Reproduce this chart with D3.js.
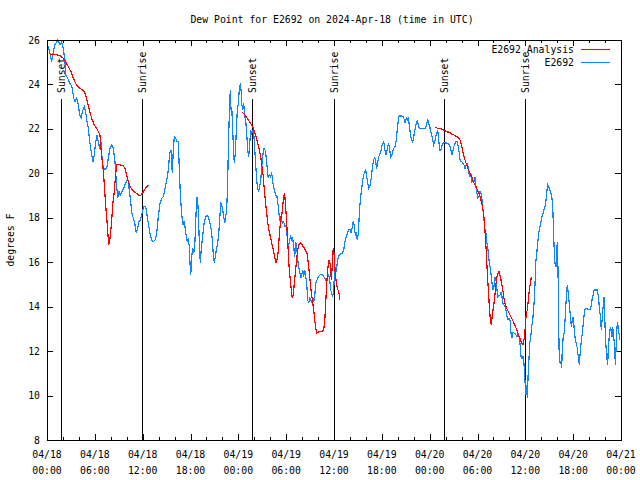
<!DOCTYPE html>
<html><head><meta charset="utf-8">
<script src="https://cdn.jsdelivr.net/npm/d3@7"></script>
<style>
html,body{margin:0;padding:0;background:#fff;}
svg{display:block;}
text{font-family:"DejaVu Sans Mono",monospace;font-size:9.8px;fill:#000;}
</style></head><body>
<div id="chart"></div>
<script>
// ---------- data ----------
const startUTC = Date.UTC(2024, 3, 18, 0, 0);
const titleText = "Dew Point for E2692 on 2024-Apr-18 (time in UTC)";
const yLabelText = "degrees F";
const seriesNames = ["E2692 Analysis", "E2692"];
const yTicks = [8, 10, 12, 14, 16, 18, 20, 22, 24, 26];
const xMajorHours = [0, 6, 12, 18, 24, 30, 36, 42, 48, 54, 60, 66, 72];

// sunset / sunrise markers (hours after 04/18 00:00 UTC)
const sunHours = [1.70, 11.95, 25.76, 36.02, 49.83, 59.98];
const sunLabels = ["Sunset", "Sunrise", "Sunset", "Sunrise", "Sunset", "Sunrise"];

// observed station dew point (hours after start, deg F)
const obsHours = [
0.09,0.41,0.59,0.79,1.00,1.34,1.63,1.84,2.04,2.26,2.35,2.60,2.76,3.01,3.17,3.35,3.51,3.73,3.93,4.10,
4.27,4.43,4.68,4.85,5.02,5.18,5.36,5.61,5.77,5.93,6.11,6.27,6.44,6.61,6.77,6.94,7.11,7.28,7.53,7.69,
7.90,8.12,8.32,8.53,8.69,8.87,9.03,9.19,9.37,9.62,9.78,9.95,10.12,10.29,10.45,10.62,10.83,11.04,11.20,11.38,
11.54,11.70,11.88,12.13,12.38,12.54,12.71,12.92,13.13,13.33,13.55,13.76,13.96,14.17,14.39,14.59,14.80,15.02,15.22,15.39,
15.55,15.64,15.72,15.84,15.97,16.14,16.31,16.47,16.60,16.72,16.90,17.06,17.19,17.31,17.47,17.60,17.72,17.85,17.94,18.03,
18.15,18.28,18.40,18.53,18.65,18.78,18.90,18.98,19.10,19.23,19.36,19.48,19.61,19.73,19.91,20.07,20.23,20.41,20.57,20.74,
20.86,20.99,21.11,21.24,21.41,21.54,21.66,21.79,21.92,22.04,22.17,22.29,22.42,22.54,22.67,22.74,22.87,22.99,23.08,23.17,
23.29,23.42,23.50,23.62,23.75,23.87,24.00,24.12,24.25,24.34,24.42,24.55,24.67,24.80,24.92,25.05,25.18,25.30,25.43,25.55,
25.68,25.84,25.96,26.09,26.22,26.34,26.51,26.68,26.81,26.93,27.10,27.22,27.35,27.47,27.60,27.76,27.89,28.01,28.19,28.35,
28.51,28.69,28.85,29.01,29.14,29.27,29.39,29.52,29.69,29.85,30.02,30.19,30.32,30.44,30.57,30.70,30.82,30.95,31.07,31.20,
31.32,31.45,31.57,31.70,31.82,31.95,32.08,32.20,32.33,32.45,32.58,32.70,32.83,32.95,33.20,33.33,33.45,33.58,33.71,33.87,
34.03,34.28,34.53,34.71,34.87,35.04,35.21,35.34,35.46,35.59,35.71,35.84,35.96,36.04,36.13,36.25,36.38,36.54,36.72,36.88,
37.04,37.22,37.38,37.54,37.72,37.88,38.05,38.14,38.30,38.42,38.55,38.67,38.80,38.92,39.05,39.14,39.23,39.35,39.48,39.60,
39.73,39.85,39.98,40.10,40.23,40.35,40.48,40.61,40.73,40.86,40.98,41.11,41.23,41.36,41.48,41.61,41.86,41.99,42.11,42.24,
42.36,42.49,42.61,42.74,42.86,42.99,43.11,43.24,43.49,43.65,43.78,43.90,44.03,44.16,44.49,44.69,44.82,44.94,45.07,45.20,
45.32,45.45,45.57,45.70,45.82,45.95,46.07,46.20,46.33,46.45,46.58,46.70,47.50,47.63,47.76,47.88,48.01,48.13,48.26,48.38,
48.51,48.63,48.76,48.88,49.01,49.13,49.26,49.39,49.51,49.64,49.76,50.34,50.46,50.64,50.77,50.89,51.02,51.18,51.34,51.47,
51.59,51.72,51.84,52.02,52.18,52.31,52.43,52.56,52.68,52.81,52.94,53.06,53.19,53.31,53.44,53.56,53.69,53.81,53.94,54.06,
54.19,54.32,54.44,54.57,54.69,54.82,54.94,55.07,55.19,55.32,55.44,55.57,55.69,55.82,55.94,56.07,56.20,56.32,56.45,56.57,
56.82,56.95,57.07,57.20,57.45,57.57,57.70,57.83,57.95,58.08,58.20,58.33,58.45,58.70,58.95,59.08,59.21,59.33,59.46,59.58,
59.71,59.83,59.92,60.00,60.09,60.17,60.25,60.34,60.43,60.55,60.68,60.80,60.93,61.05,61.18,61.30,61.43,61.55,61.68,61.80,
61.93,62.05,62.26,62.47,62.59,62.72,62.81,62.93,63.06,63.18,63.31,63.44,63.51,63.60,63.72,63.85,63.94,64.01,64.10,64.19,
64.26,64.39,64.48,64.56,64.64,64.76,64.89,65.01,65.14,65.26,65.39,65.51,65.64,65.77,65.89,66.02,66.14,66.27,66.52,66.64,
66.77,66.89,67.02,67.14,67.27,67.39,67.52,67.90,68.11,68.24,68.36,68.49,68.62,69.03,69.16,69.28,69.41,69.53,69.66,69.79,
69.87,69.96,70.03,70.12,70.21,70.33,70.41,70.53,70.66,70.78,70.87,70.96,71.08,71.21,71.29,71.41,71.50,71.58,71.66,71.75,
71.84];
const obsDewF = [
25.78,25.33,25.02,25.47,25.78,26.00,25.78,25.92,25.63,25.02,24.43,24.28,24.12,23.98,23.83,23.38,23.22,23.38,23.08,22.63,
22.48,22.77,23.00,22.77,22.32,22.03,21.42,20.82,20.52,20.82,21.42,21.72,21.42,21.12,21.42,20.52,20.22,20.15,20.30,20.68,
21.12,21.28,21.12,20.52,19.62,18.88,19.17,19.03,19.17,19.33,19.48,19.62,19.78,19.33,18.88,18.27,17.98,17.68,17.30,17.53,
17.82,17.90,18.13,18.50,18.50,18.13,17.75,17.30,17.00,16.92,17.00,17.30,18.05,18.65,18.88,18.95,19.33,19.70,20.15,20.90,
21.05,20.45,20.00,21.05,21.65,21.58,21.42,21.42,20.15,19.10,18.13,17.68,17.82,17.60,17.15,16.92,17.08,16.70,15.95,15.43,
16.25,16.63,16.40,16.70,17.75,18.95,18.80,18.20,17.00,15.95,16.63,17.00,17.45,17.82,18.05,18.13,18.05,17.82,17.53,17.00,
16.33,15.98,16.25,16.55,16.85,17.30,17.90,18.65,18.58,18.35,18.05,17.75,18.05,18.35,19.70,21.05,22.70,23.75,22.85,23.00,
21.95,20.90,20.45,20.90,21.95,22.85,23.15,23.75,24.05,23.75,23.15,22.85,23.15,22.55,22.40,21.80,21.05,20.75,21.35,21.95,
21.80,21.95,21.65,20.90,20.15,19.55,19.17,19.40,19.70,20.30,20.90,21.12,21.05,20.82,20.30,19.78,19.93,19.85,20.00,19.55,
19.25,19.03,18.95,18.50,18.05,17.82,17.98,17.75,17.82,17.60,17.68,16.85,16.78,17.00,17.15,17.00,17.08,16.70,16.25,16.92,
16.70,16.10,15.80,15.57,15.28,15.43,15.65,15.35,15.65,15.35,15.05,14.30,14.15,14.38,14.22,14.45,14.22,14.45,15.05,15.20,
15.35,15.43,15.43,15.35,15.28,15.12,15.35,15.43,15.20,14.75,14.60,14.45,14.75,15.35,15.80,15.57,15.88,16.25,16.33,16.40,
16.40,16.55,16.92,17.15,17.37,17.48,17.45,17.30,17.60,17.87,17.60,17.23,17.30,17.00,17.30,17.90,18.50,18.95,19.33,19.70,
19.93,20.07,20.15,19.85,19.55,19.33,19.40,19.62,20.00,20.38,20.60,20.75,20.52,20.22,20.52,20.75,20.97,21.20,21.35,21.42,
21.12,20.82,20.97,21.20,21.35,21.05,20.72,20.82,21.12,21.20,21.42,21.87,22.25,22.58,22.58,22.55,22.40,22.25,22.48,22.40,
22.48,22.18,21.80,21.53,21.42,21.50,21.80,22.03,22.25,22.40,22.18,22.03,22.03,22.25,22.40,22.25,22.10,21.87,21.72,21.50,
21.28,21.42,21.65,21.80,21.95,21.50,21.05,21.02,21.20,21.35,21.38,21.35,21.28,21.12,20.82,20.97,21.20,21.35,21.45,21.42,
21.20,20.90,20.52,20.52,20.45,20.38,20.22,20.38,20.45,20.30,20.00,19.85,19.93,19.62,19.70,19.62,19.85,19.40,19.10,18.88,
18.95,19.17,19.10,18.80,18.35,17.90,17.45,17.30,16.85,16.55,16.10,15.80,15.50,15.05,14.75,14.90,15.35,15.20,14.75,14.45,
14.52,14.67,14.45,14.15,14.00,13.85,13.55,13.40,13.48,13.40,12.80,12.58,12.83,12.80,12.65,12.80,12.65,12.35,11.75,11.68,
11.75,11.45,10.85,10.40,10.03,10.48,9.88,10.85,11.45,12.35,12.65,13.10,13.40,13.93,14.67,15.95,16.40,16.85,17.30,17.52,
17.75,17.98,18.27,18.50,18.80,19.25,19.48,19.40,19.25,19.13,18.95,18.50,17.68,16.78,15.95,15.80,16.40,16.92,15.65,13.10,
11.60,11.45,11.52,11.22,12.20,12.65,12.87,13.55,14.45,14.98,14.60,14.15,13.63,13.10,13.40,13.55,12.95,12.50,12.13,11.75,
11.38,11.98,12.42,12.80,13.25,13.70,13.93,13.88,13.88,14.00,14.30,14.52,14.75,14.75,14.45,14.00,13.55,12.95,13.55,14.15,
14.45,13.55,12.80,12.20,11.75,11.38,12.20,12.65,13.10,12.95,12.65,13.10,12.65,12.20,11.38,12.35,13.10,13.32,12.95,12.80,
12.50];

// analysis dew point (null = gap between nightly runs)
const anaHours = [
0.44,1.22,1.63,2.04,2.35,2.67,3.01,3.30,3.60,3.85,4.14,4.43,4.68,4.85,5.06,5.27,5.48,5.68,5.93,6.23,
6.44,6.65,6.77,6.94,7.11,7.24,7.36,7.53,7.65,7.74,7.87,7.99,8.12,8.24,8.40,8.57,8.74,9.16,9.57,9.78,
10.00,10.20,10.41,10.70,11.04,11.38,11.67,11.88,12.08,12.29,12.51,12.71,
18.00,
24.52,24.84,25.25,25.68,25.96,26.22,26.43,26.63,26.81,26.97,27.13,27.26,27.43,27.60,27.76,27.97,28.19,28.39,28.56,28.73,
28.85,28.98,29.10,29.23,29.35,29.48,29.60,29.73,29.82,29.89,30.02,30.14,30.27,30.39,30.52,30.64,30.77,30.90,31.02,31.15,
31.27,31.40,31.52,31.65,31.77,31.95,32.15,32.36,32.61,32.78,32.95,33.12,33.28,33.46,33.58,33.71,33.83,34.12,34.46,34.71,
34.87,35.00,35.12,35.25,35.37,35.50,35.59,35.66,35.75,35.84,35.91,36.00,36.13,36.25,36.38,36.50,36.63,36.72,
42.00,
48.67,49.01,49.42,49.76,50.14,50.43,50.77,51.18,51.59,51.81,52.02,52.22,52.43,52.64,52.85,53.06,53.27,53.47,53.69,53.90,
54.10,54.32,54.53,54.69,54.86,54.98,55.11,55.23,55.36,55.49,55.61,55.74,55.82,55.95,56.07,56.20,56.32,56.45,56.57,56.70,
56.82,56.95,57.07,57.20,57.32,57.45,57.66,57.86,58.08,58.29,58.49,58.70,58.92,59.12,59.33,59.55,59.71,59.83,59.96,60.05,
60.13,60.25,60.38,60.50,60.63,60.75];
const anaDewF = [
25.37,25.33,25.30,25.18,25.02,24.80,24.57,24.28,24.05,23.90,23.83,23.75,23.67,23.52,23.22,22.93,22.63,22.40,22.18,22.03,
21.87,21.72,21.12,20.52,19.93,19.17,18.58,17.82,17.23,16.78,17.00,17.37,17.90,18.58,19.03,19.78,20.38,20.38,20.34,20.22,
19.93,19.62,19.40,19.25,19.15,19.06,18.98,19.06,19.17,19.30,19.40,19.48,
null,
22.74,22.63,22.40,22.18,21.95,21.65,21.35,21.05,20.75,20.30,19.85,19.25,18.65,18.05,17.60,17.23,16.85,16.55,16.25,15.95,
16.10,16.40,17.00,17.60,18.05,18.20,18.65,19.03,19.10,18.65,18.05,17.30,16.40,15.65,15.20,14.75,14.38,14.52,15.05,15.50,
15.95,16.40,16.70,16.82,16.88,16.82,16.70,16.58,16.40,15.95,15.35,14.75,14.30,13.85,13.40,13.03,12.80,12.87,12.87,12.95,
13.55,14.45,15.20,15.80,16.10,15.95,15.65,15.20,15.65,16.40,16.63,16.40,15.65,15.20,14.90,14.75,14.60,14.30,
null,
22.07,22.03,22.00,21.95,21.87,21.85,21.77,21.70,21.62,21.50,21.20,20.90,20.60,20.38,20.15,20.00,19.85,19.62,19.48,19.33,
19.17,18.95,18.65,18.35,17.90,17.15,16.40,15.50,14.75,14.00,13.40,13.17,13.48,13.85,14.15,14.60,15.05,15.35,15.50,15.57,
15.43,15.20,14.98,14.67,14.38,14.15,13.93,13.78,13.63,13.48,13.32,13.17,12.95,12.73,12.58,12.35,12.28,12.50,12.95,13.40,
13.70,13.85,14.30,14.75,15.05,15.35];

// ---------- chart ----------
const W = 640, H = 480;
const L = 47, R = 621, T = 40, B = 440;
const HOUR = 3600 * 1000;
const toDate = h => new Date(startUTC + h * HOUR);

const x = d3.scaleUtc().domain([toDate(0), toDate(72)]).range([L, R]);
const y = d3.scaleLinear().domain([8, 26]).range([B, T]);

const svg = d3.select("#chart").append("svg").attr("width", W).attr("height", H);

// title
svg.append("text").attr("x", 332).attr("y", 23).attr("text-anchor", "middle").text(titleText);

// y label
svg.append("text").attr("transform", "translate(14,240) rotate(-90)")
  .attr("text-anchor", "middle").text(yLabelText);

const g = svg.append("g");

// y ticks (left and right, inward)
yTicks.forEach(v => {
  const yy = Math.round(y(v)) + 0.5;
  g.append("line").attr("x1", L).attr("x2", L + 6).attr("y1", yy).attr("y2", yy).attr("stroke", "#000");
  g.append("line").attr("x1", R - 6).attr("x2", R).attr("y1", yy).attr("y2", yy).attr("stroke", "#000");
  g.append("text").attr("x", 40).attr("y", y(v) + 3.5).attr("text-anchor", "end").text(v);
});

// x ticks (major every 6 h, minor every 2 h) top and bottom
const minor = d3.range(0, 73, 2).filter(h => !xMajorHours.includes(h));
minor.forEach(h => {
  const xx = Math.round(x(toDate(h))) + 0.5;
  g.append("line").attr("x1", xx).attr("x2", xx).attr("y1", B).attr("y2", B - 3).attr("stroke", "#000");
  g.append("line").attr("x1", xx).attr("x2", xx).attr("y1", T).attr("y2", T + 3).attr("stroke", "#000");
});
const fmtD = d3.utcFormat("%m/%d"), fmtT = d3.utcFormat("%H:%M");
xMajorHours.forEach(h => {
  const d = toDate(h);
  const xx = Math.round(x(d)) + 0.5;
  g.append("line").attr("x1", xx).attr("x2", xx).attr("y1", B).attr("y2", B - 6).attr("stroke", "#000");
  g.append("line").attr("x1", xx).attr("x2", xx).attr("y1", T).attr("y2", T + 6).attr("stroke", "#000");
  g.append("text").attr("x", x(d)).attr("y", 458).attr("text-anchor", "middle").text(fmtD(d));
  g.append("text").attr("x", x(d)).attr("y", 474).attr("text-anchor", "middle").text(fmtT(d));
});

// sunset/sunrise markers
sunHours.forEach((h, i) => {
  const xx = Math.round(x(toDate(h))) + 0.5;
  g.append("line").attr("x1", xx).attr("x2", xx).attr("y1", 99).attr("y2", B)
    .attr("stroke", "#000").attr("stroke-width", 1);
  g.append("text").attr("transform", `translate(${xx + 3.5},93) rotate(-90)`)
    .attr("text-anchor", "start").text(sunLabels[i]);
});

// series
const obs = obsHours.map((h, i) => ({ t: toDate(h), v: obsDewF[i] }));
const ana = anaHours.map((h, i) => ({ t: toDate(h), v: anaDewF[i] }));
const line = d3.line().defined(d => d.v !== null).x(d => x(d.t)).y(d => y(d.v));

g.append("path").datum(obs).attr("d", line).attr("fill", "none")
  .attr("stroke", "#0f85ff").attr("stroke-width", 1.2).attr("shape-rendering", "crispEdges");
g.append("path").datum(ana).attr("d", line).attr("fill", "none")
  .attr("stroke", "#ff0000").attr("stroke-width", 1.2).attr("shape-rendering", "crispEdges");

// border
g.append("rect").attr("x", L + 0.5).attr("y", T + 0.5).attr("width", R - L).attr("height", B - T)
  .attr("fill", "none").attr("stroke", "#000");

// legend
const legColors = ["#ff0000", "#0f85ff"];
seriesNames.forEach((name, i) => {
  const yy = 53 + i * 13;
  svg.append("text").attr("x", 574).attr("y", yy).attr("text-anchor", "end").text(name);
  svg.append("line").attr("x1", 581).attr("x2", 610).attr("y1", yy - 3.5).attr("y2", yy - 3.5)
    .attr("stroke", legColors[i]).attr("stroke-width", 1.1);
});
</script>
</body></html>
